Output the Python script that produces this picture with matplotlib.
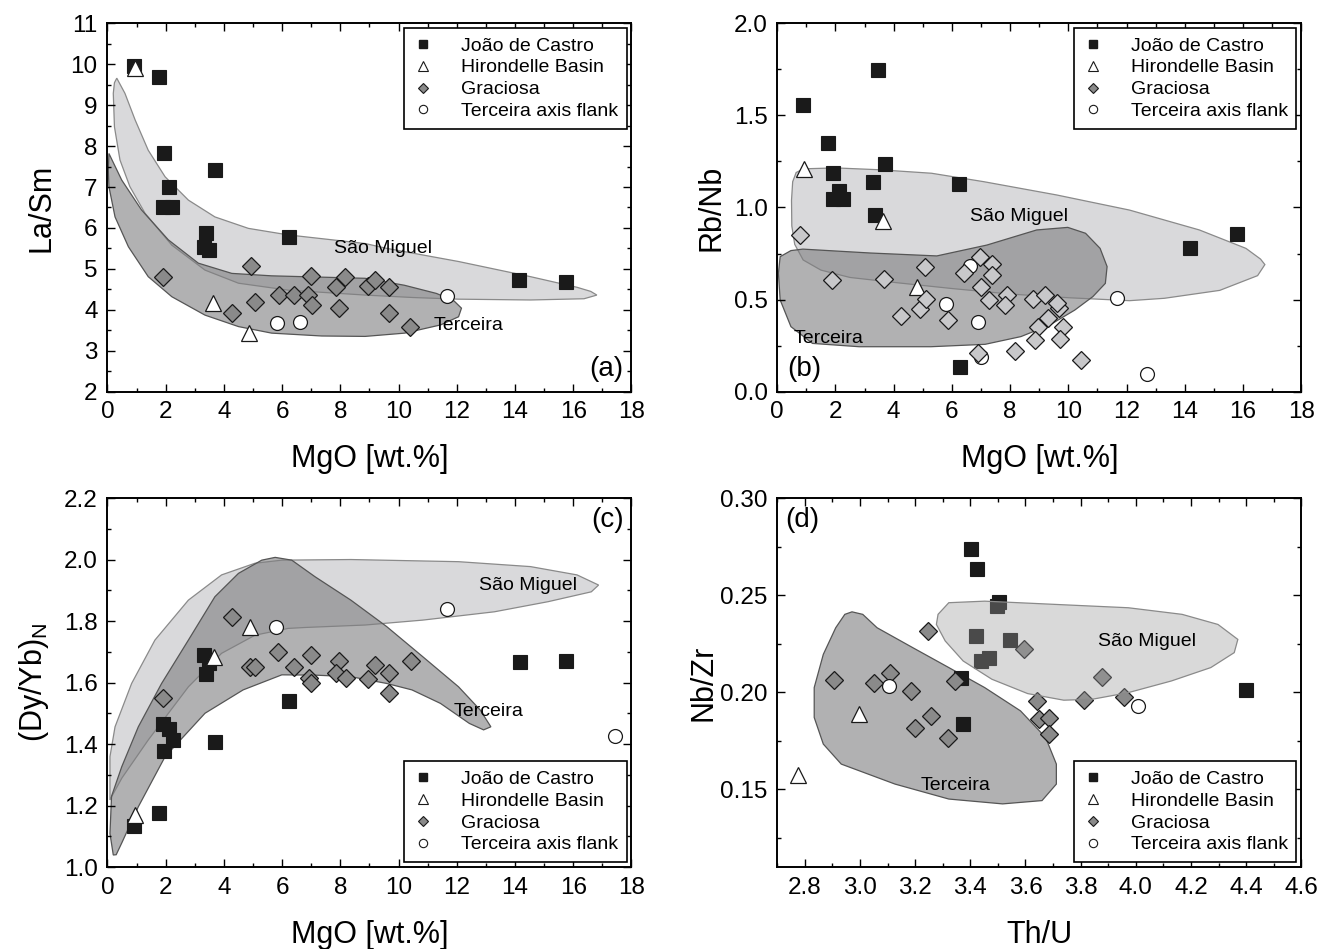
import matplotlib
matplotlib.use("Agg")
import matplotlib.pyplot as plt
from matplotlib.patches import Polygon
from matplotlib.lines import Line2D
from matplotlib.ticker import MultipleLocator, FormatStrFormatter

plt.rcParams['font.family'] = ['Liberation Sans', 'DejaVu Sans']
plt.rcParams['mathtext.fontset'] = 'custom'
plt.rcParams['mathtext.rm'] = 'Liberation Sans'
plt.rcParams['mathtext.it'] = 'Liberation Sans:italic'

# ---------------- data ----------------
series_names = ["João de Castro", "Hirondelle Basin", "Graciosa", "Terceira axis flank"]

# panel (a) La/Sm vs MgO
jdc_a_x = [0.90, 1.76, 1.95, 3.71, 2.11, 1.91, 2.23, 3.37, 3.30, 3.49, 6.24, 14.15, 15.76]
jdc_a_y = [9.95, 9.70, 7.82, 7.42, 7.00, 6.52, 6.50, 5.87, 5.54, 5.45, 5.77, 4.73, 4.69]
hb_a_x = [0.94, 3.63, 4.86]
hb_a_y = [9.90, 4.16, 3.43]
gr_a_x = [1.92, 4.92, 4.28, 5.07, 5.89, 6.40, 6.98, 6.88, 7.04, 7.84, 8.16, 7.94, 8.95, 9.20, 9.67, 9.67, 10.39]
gr_a_y = [4.79, 5.08, 3.93, 4.20, 4.36, 4.36, 4.83, 4.36, 4.12, 4.55, 4.81, 4.04, 4.57, 4.73, 4.55, 3.92, 3.57]
tf_a_x = [5.82, 6.60, 11.66]
tf_a_y = [3.67, 3.71, 4.34]

# panel (b) Rb/Nb vs MgO
jdc_b_x = [0.88, 3.47, 1.74, 1.93, 3.70, 3.28, 6.25, 2.11, 1.90, 2.26, 3.37, 14.17, 15.78, 6.27]
jdc_b_y = [1.557, 1.747, 1.348, 1.189, 1.236, 1.137, 1.128, 1.091, 1.044, 1.046, 0.959, 0.778, 0.854, 0.136]
hb_b_x = [0.93, 3.63, 4.81]
hb_b_y = [1.207, 0.927, 0.567]
gr_b_x = [0.78, 1.89, 3.65, 5.06, 4.26, 4.91, 5.10, 5.88, 6.40, 6.95, 7.36, 7.36, 7.01, 7.26,
          7.88, 7.81, 8.80, 9.21, 9.67, 9.60, 9.30, 8.96, 9.83, 8.87, 9.70, 6.91, 8.17, 10.42]
gr_b_y = [0.851, 0.606, 0.610, 0.675, 0.411, 0.447, 0.501, 0.389, 0.643, 0.733, 0.693, 0.633, 0.570, 0.498,
          0.525, 0.471, 0.501, 0.525, 0.453, 0.480, 0.398, 0.353, 0.353, 0.281, 0.286, 0.208, 0.221, 0.172]
tf_b_x = [5.81, 6.91, 6.62, 7.01, 11.68, 12.69]
tf_b_y = [0.476, 0.380, 0.684, 0.190, 0.507, 0.096]

# panel (c) (Dy/Yb)N vs MgO
jdc_c_x = [0.90, 1.76, 1.92, 2.13, 2.26, 1.95, 3.30, 3.49, 3.39, 3.71, 6.24, 14.16, 15.76]
jdc_c_y = [1.133, 1.175, 1.465, 1.450, 1.413, 1.378, 1.689, 1.662, 1.627, 1.408, 1.540, 1.666, 1.671]
hb_c_x = [0.94, 3.65, 4.88]
hb_c_y = [1.169, 1.684, 1.782]
gr_c_x = [1.92, 4.27, 4.91, 5.07, 5.87, 6.41, 7.00, 6.92, 7.00, 7.94, 7.84, 8.19, 8.95, 9.20, 9.67, 9.67, 10.41]
gr_c_y = [1.549, 1.814, 1.651, 1.651, 1.700, 1.651, 1.689, 1.614, 1.597, 1.670, 1.630, 1.616, 1.610, 1.657, 1.632, 1.565, 1.671]
tf_c_x = [5.80, 11.66, 17.45]
tf_c_y = [1.782, 1.838, 1.427]

# panel (d) Nb/Zr vs Th/U
jdc_d_x = [3.403, 3.426, 3.504, 3.498, 3.420, 3.543, 3.437, 3.468, 3.368, 3.374, 4.399]
jdc_d_y = [0.2738, 0.2637, 0.2466, 0.2443, 0.2289, 0.2267, 0.2161, 0.2175, 0.2075, 0.1836, 0.2010]
hb_d_x = [2.997, 2.775]
hb_d_y = [0.1890, 0.1575]
gr_d_x = [2.906, 3.049, 3.107, 3.185, 3.248, 3.257, 3.198, 3.318, 3.344, 3.596, 3.641, 3.650, 3.684, 3.687, 3.811, 3.876, 3.958]
gr_d_y = [0.2062, 0.2050, 0.2100, 0.2007, 0.2315, 0.1878, 0.1815, 0.1762, 0.2058, 0.2221, 0.1955, 0.1861, 0.1866, 0.1784, 0.1959, 0.2079, 0.1978]
tf_d_x = [3.105, 4.008]
tf_d_y = [0.2033, 0.1930]

# field outlines (Sao Miguel, Terceira)
sm_a_x = [0.32, 0.60, 0.95, 1.40, 1.98, 2.78, 3.69, 4.84, 6.21, 8.85, 9.60, 12.06, 14.53, 16.13, 16.60, 16.81,
          16.37, 14.53, 12.06, 10.50, 8.85, 6.21, 4.50, 3.35, 2.21, 1.29, 0.77, 0.43, 0.24, 0.20, 0.24]
sm_a_y = [9.66, 9.29, 8.64, 7.90, 7.25, 6.68, 6.27, 5.99, 5.83, 5.62, 5.50, 5.18, 4.81, 4.55, 4.45, 4.36,
          4.27, 4.24, 4.26, 4.30, 4.36, 4.48, 4.65, 4.97, 5.58, 6.36, 7.01, 7.66, 8.47, 9.29, 9.55]
te_a_x = [0.05, 0.49, 1.17, 2.09, 3.12, 4.27, 5.64, 8.85, 10.20, 11.30, 11.90, 12.16,
          12.06, 11.44, 10.21, 8.85, 7.36, 5.64, 4.50, 3.35, 2.21, 1.40, 0.72, 0.26, 0.05, 0.03]
te_a_y = [7.82, 7.17, 6.44, 5.71, 5.14, 4.89, 4.83, 4.77, 4.60, 4.40, 4.22, 4.04,
          3.83, 3.63, 3.43, 3.35, 3.36, 3.43, 3.59, 3.87, 4.32, 4.81, 5.54, 6.27, 7.01, 7.40]

sm_b_x = [0.65, 0.90, 2.0, 3.5, 5.3, 7.1, 9.6, 12.1, 14.5, 16.1, 16.6, 16.75,
          16.5, 15.2, 13.3, 12.1, 10.0, 8.0, 6.0, 4.2, 2.5, 1.5, 0.89, 0.60, 0.50, 0.49, 0.53]
sm_b_y = [1.19, 1.21, 1.215, 1.205, 1.186, 1.14, 1.068, 0.986, 0.878, 0.778, 0.72, 0.69,
          0.63, 0.55, 0.507, 0.494, 0.51, 0.53, 0.56, 0.59, 0.62, 0.66, 0.715, 0.80, 0.90, 1.04, 1.14]
te_b_x = [0.10, 0.47, 0.88, 3.18, 5.48, 7.20, 8.91, 9.98, 10.59, 11.09, 11.33, 11.27, 10.84, 10.22,
          9.36, 8.37, 7.14, 5.28, 2.81, 1.21, 0.47, 0.10, 0.04]
te_b_y = [0.733, 0.766, 0.774, 0.753, 0.737, 0.796, 0.878, 0.892, 0.860, 0.778, 0.679, 0.588, 0.516, 0.443,
          0.362, 0.299, 0.257, 0.244, 0.244, 0.262, 0.353, 0.498, 0.643]

sm_c_x = [0.086, 0.086, 0.26, 0.83, 1.63, 2.78, 3.92, 5.07, 5.99, 8.36, 12.06, 14.53, 16.13, 16.87,
          16.62, 15.14, 13.29, 10.83, 8.85, 6.79, 6.21, 5.07, 3.92, 2.78, 1.40, 0.50, 0.15]
sm_c_y = [1.218, 1.359, 1.456, 1.597, 1.738, 1.868, 1.950, 1.988, 1.998, 2.000, 1.993, 1.977, 1.950, 1.917,
          1.895, 1.863, 1.830, 1.803, 1.787, 1.779, 1.776, 1.754, 1.695, 1.586, 1.413, 1.290, 1.230]
te_c_x = [0.20, 0.086, 0.14, 0.49, 1.06, 1.86, 2.78, 3.69, 4.50, 5.30, 5.76, 6.33, 7.13, 8.36, 9.59, 10.83,
          12.06, 12.80, 13.17, 12.92, 12.43, 11.44, 10.46, 9.59, 8.36, 7.13, 5.99, 4.66, 3.35, 1.98, 1.06, 0.50, 0.30]
te_c_y = [1.039, 1.109, 1.230, 1.326, 1.456, 1.597, 1.738, 1.879, 1.955, 1.998, 2.007, 1.998, 1.944, 1.868, 1.782, 1.684,
          1.586, 1.511, 1.456, 1.446, 1.467, 1.532, 1.576, 1.597, 1.619, 1.624, 1.625, 1.576, 1.500, 1.359, 1.196, 1.080, 1.040]

sm_d_x = [3.283, 3.322, 3.452, 3.712, 3.973, 4.168, 4.298, 4.370, 4.357, 4.272, 4.129, 3.973, 3.843, 3.739,
          3.608, 3.478, 3.374, 3.309, 3.277]
sm_d_y = [0.2401, 0.2461, 0.2469, 0.2452, 0.2435, 0.2401, 0.2349, 0.2272, 0.2204, 0.2127, 0.2058, 0.1998, 0.1964, 0.1959,
          0.1993, 0.2067, 0.2161, 0.2264, 0.2349]
te_d_x = [2.971, 3.010, 3.062, 3.192, 3.322, 3.452, 3.582, 3.673, 3.712, 3.712, 3.660, 3.517, 3.322, 3.127,
          2.932, 2.867, 2.834, 2.834, 2.867, 2.912, 2.945]
te_d_y = [0.2414, 0.2401, 0.2332, 0.2229, 0.2127, 0.2024, 0.1904, 0.1767, 0.1630, 0.1527, 0.1442, 0.1425, 0.1450, 0.1527,
          0.1630, 0.1733, 0.1870, 0.2024, 0.2195, 0.2332, 0.2401]

# ---------------- styles ----------------
SM_FACE = '#d9d9db'
SM_EDGE = '#8a8a8a'
TE_FACE = '#7e7e80'
TE_ALPHA = 0.6
TE_EDGE = '#555555'
SQ = dict(marker='s', ms=9.5, mfc='#1a1a1a', mec='#1a1a1a', mew=0.8, ls='none')
TR = dict(marker='^', ms=11.5, mfc='white', mec='#1a1a1a', mew=0.9, ls='none')
DI = dict(marker='D', ms=9.0, mfc='#8a8a8a', mec='#1a1a1a', mew=0.9, ls='none')
DI_L = dict(DI, mfc='#c8c8ca')
CI = dict(marker='o', ms=10, mfc='white', mec='#1a1a1a', mew=0.9, ls='none')

TICK_FS = 17.5
LABEL_FS = 22
TEXT_FS = 14
PANEL_FS = 20

fig = plt.figure(figsize=(13.3, 9.49), dpi=100)
axA = fig.add_axes([0.0808, 0.5873, 0.394, 0.3881])
axB = fig.add_axes([0.5844, 0.5873, 0.394, 0.3881])
axC = fig.add_axes([0.0808, 0.0864, 0.394, 0.3888])
axD = fig.add_axes([0.5844, 0.0864, 0.394, 0.3888])


def fields(ax, smx, smy, tex, tey):
    ax.add_patch(Polygon(list(zip(smx, smy)), closed=True, fc=SM_FACE, ec=SM_EDGE, lw=0.9, zorder=1))
    ax.add_patch(Polygon(list(zip(tex, tey)), closed=True, fc=TE_FACE, alpha=TE_ALPHA, ec='none', zorder=1.1))
    ax.add_patch(Polygon(list(zip(tex, tey)), closed=True, fill=False, ec=TE_EDGE, lw=0.9, zorder=1.2))


def style(ax, xlim, ylim, xmaj, xmin, ymaj, ymin, xfmt, yfmt, ylab_x):
    ax.set_xlim(*xlim)
    ax.set_ylim(*ylim)
    ax.xaxis.set_major_locator(MultipleLocator(xmaj))
    ax.xaxis.set_minor_locator(MultipleLocator(xmin))
    ax.yaxis.set_major_locator(MultipleLocator(ymaj))
    ax.yaxis.set_minor_locator(MultipleLocator(ymin))
    ax.xaxis.set_major_formatter(FormatStrFormatter(xfmt))
    ax.yaxis.set_major_formatter(FormatStrFormatter(yfmt))
    ax.tick_params(which='both', direction='in', top=True, right=True, labelsize=TICK_FS, width=1.0, pad=7)
    ax.tick_params(which='major', length=5.5)
    ax.tick_params(which='minor', length=3.2)
    for s in ax.spines.values():
        s.set_linewidth(1.4)
    ax.xaxis.set_label_coords(0.5, -0.143)
    ax.yaxis.set_label_coords(ylab_x, 0.5)


def legend(ax, loc):
    handles = [
        Line2D([], [], marker='s', ms=6.3, mfc='#1a1a1a', mec='#1a1a1a', ls='none'),
        Line2D([], [], marker='^', ms=7.5, mfc='white', mec='#1a1a1a', mew=0.8, ls='none'),
        Line2D([], [], marker='D', ms=5.5, mfc='#8a8a8a', mec='#1a1a1a', mew=0.8, ls='none'),
        Line2D([], [], marker='o', ms=6.0, mfc='white', mec='#1a1a1a', mew=0.8, ls='none'),
    ]
    lg = ax.legend(handles, series_names, loc=loc, fontsize=TEXT_FS, frameon=True, fancybox=False,
                   edgecolor='black', framealpha=1, handlelength=1.0, handletextpad=1.45,
                   labelspacing=0.22, borderpad=0.45, borderaxespad=0.25)
    lg.get_frame().set_linewidth(1.2)
    lg.set_zorder(10)


# ---- (a)
fields(axA, sm_a_x, sm_a_y, te_a_x, te_a_y)
axA.plot(jdc_a_x, jdc_a_y, zorder=3, **SQ)
axA.plot(hb_a_x, hb_a_y, zorder=3, **TR)
axA.plot(gr_a_x, gr_a_y, zorder=3, **DI)
axA.plot(tf_a_x, tf_a_y, zorder=3, **CI)
axA.text(9.45, 5.5, 'São Miguel', fontsize=TEXT_FS, ha='center', va='center', zorder=4)
axA.text(12.4, 3.62, 'Terceira', fontsize=TEXT_FS, ha='center', va='center', zorder=4)
style(axA, (0, 18), (2, 11), 2, 1, 1, 0.5, '%d', '%d', -0.098)
axA.set_xlabel('MgO [wt.%]', fontsize=LABEL_FS)
axA.set_ylabel('La/Sm', fontsize=LABEL_FS)
axA.text(0.985, 0.025, '(a)', transform=axA.transAxes, fontsize=PANEL_FS, ha='right', va='bottom')
legend(axA, 'upper right')

# ---- (b)
fields(axB, sm_b_x, sm_b_y, te_b_x, te_b_y)
axB.plot(jdc_b_x, jdc_b_y, zorder=3, **SQ)
axB.plot(hb_b_x, hb_b_y, zorder=3, **TR)
axB.plot(tf_b_x, tf_b_y, zorder=3, **CI)
axB.plot(gr_b_x, gr_b_y, zorder=3, **DI_L)
axB.text(8.3, 0.95, 'São Miguel', fontsize=TEXT_FS, ha='center', va='center', zorder=4)
axB.text(1.77, 0.29, 'Terceira', fontsize=TEXT_FS, ha='center', va='center', zorder=4)
style(axB, (0, 18), (0, 2.0), 2, 1, 0.5, 0.25, '%d', '%.1f', -0.097)
axB.set_xlabel('MgO [wt.%]', fontsize=LABEL_FS)
axB.set_ylabel('Rb/Nb', fontsize=LABEL_FS)
axB.text(0.02, 0.025, '(b)', transform=axB.transAxes, fontsize=PANEL_FS, ha='left', va='bottom')
legend(axB, 'upper right')

# ---- (c)
fields(axC, sm_c_x, sm_c_y, te_c_x, te_c_y)
axC.plot(jdc_c_x, jdc_c_y, zorder=3, **SQ)
axC.plot(hb_c_x, hb_c_y, zorder=3, **TR)
axC.plot(gr_c_x, gr_c_y, zorder=3, **DI)
axC.plot(tf_c_x, tf_c_y, zorder=3, **CI)
axC.text(14.45, 1.917, 'São Miguel', fontsize=TEXT_FS, ha='center', va='center', zorder=4)
axC.text(13.1, 1.505, 'Terceira', fontsize=TEXT_FS, ha='center', va='center', zorder=4)
style(axC, (0, 18), (1.0, 2.2), 2, 1, 0.2, 0.1, '%d', '%.1f', -0.108)
axC.set_xlabel('MgO [wt.%]', fontsize=LABEL_FS)
axC.set_ylabel(r'(Dy/Yb)$_{\rm N}$', fontsize=LABEL_FS)
axC.text(0.985, 0.975, '(c)', transform=axC.transAxes, fontsize=PANEL_FS, ha='right', va='top')
legend(axC, 'lower right')

# ---- (d)
axD.add_patch(Polygon(list(zip(te_d_x, te_d_y)), closed=True, fc=TE_FACE, alpha=TE_ALPHA, ec='none', zorder=1.1))
axD.add_patch(Polygon(list(zip(te_d_x, te_d_y)), closed=True, fill=False, ec=TE_EDGE, lw=0.9, zorder=1.2))
axD.plot(jdc_d_x, jdc_d_y, zorder=3, **SQ)
axD.plot(hb_d_x, hb_d_y, zorder=3, **TR)
axD.plot(gr_d_x, gr_d_y, zorder=3, **DI)
axD.plot(tf_d_x, tf_d_y, zorder=3, **CI)
axD.add_patch(Polygon(list(zip(sm_d_x, sm_d_y)), closed=True, fc='#9a9a9c', alpha=0.376, ec='none', zorder=4))
axD.add_patch(Polygon(list(zip(sm_d_x, sm_d_y)), closed=True, fill=False, ec=SM_EDGE, lw=0.9, zorder=4.1))
axD.text(4.04, 0.226, 'São Miguel', fontsize=TEXT_FS, ha='center', va='center', zorder=5)
axD.text(3.345, 0.152, 'Terceira', fontsize=TEXT_FS, ha='center', va='center', zorder=5)
style(axD, (2.7, 4.6), (0.11, 0.30), 0.2, 0.1, 0.05, 0.025, '%.1f', '%.2f', -0.112)
axD.set_xlabel('Th/U', fontsize=LABEL_FS)
axD.set_ylabel('Nb/Zr', fontsize=LABEL_FS)
axD.text(0.015, 0.975, '(d)', transform=axD.transAxes, fontsize=PANEL_FS, ha='left', va='top')
legend(axD, 'lower right')

fig.savefig('out.png', dpi=100)
